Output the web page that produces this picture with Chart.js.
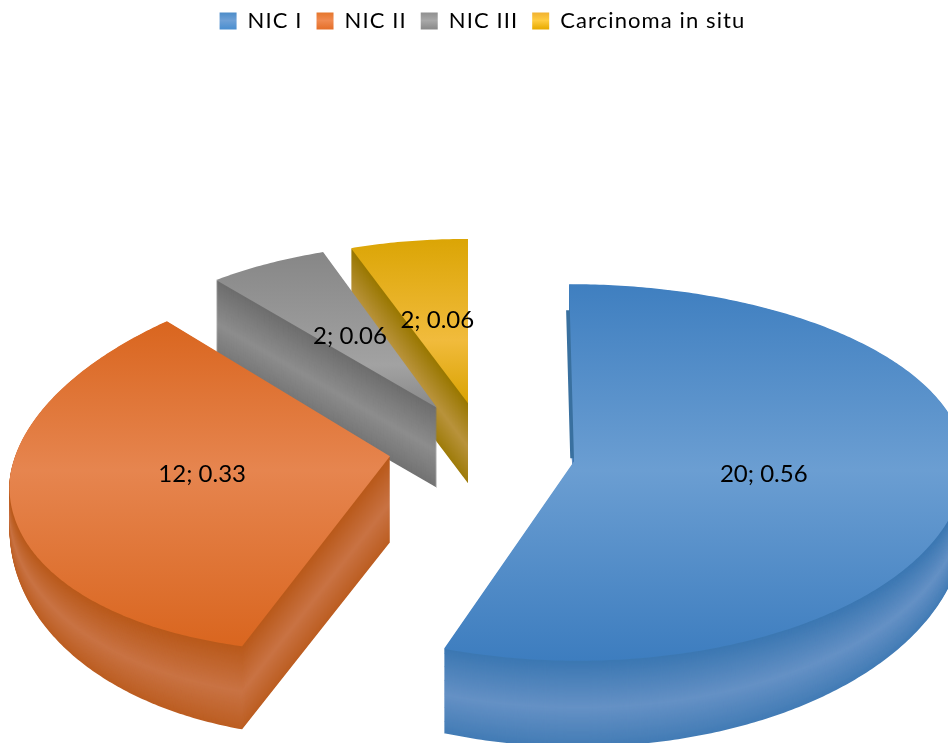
<!DOCTYPE html>
<html>
<head>
<meta charset="utf-8">
<style>
  html, body { margin: 0; padding: 0; background: #fff; }
  canvas { display: block; }
</style>
<script src="https://cdn.jsdelivr.net/npm/chart.js@4"></script>
</head>
<body>
<canvas id="myChart" width="948" height="743"></canvas>
<script>
const categories = ['NIC I', 'NIC II', 'NIC III', 'Carcinoma in situ'];
const counts = [20, 12, 2, 2];
const shares = [0.56, 0.33, 0.06, 0.06];

// legend swatches and flat fallback
const baseColors = ['#5b9bd5', '#ed7d31', '#a5a5a5', '#ffc000'];
// top face: colour at top / middle / bottom, and the screen y of those stops
const faceColors = [
    ['#3f7fc0', '#6b9ed2', '#3d7dbf'],
    ['#d9651e', '#e6854f', '#d9651e'],
    ['#868686', '#a2a2a2', '#878787'],
    ['#dba505', '#f1bb3c', '#d9a200']
];
const faceStops = [[284, 470, 660], [320, 470, 650], [250, 365, 410], [239, 340, 405]];
const swatchColors = [
    ['#4a8bc8', '#6ea0d6', '#4b8fd0'],
    ['#e5752a', '#f08a50', '#e5702a'],
    ['#8e8e8e', '#a8a8a8', '#8a8a8a'],
    ['#f0b030', '#ffcc40', '#e8ab00']
];
// side wall: dark edge and light streak
const wallColors = [
    ['#3b77b2', '#6591c5'],
    ['#b9591a', '#c97344'],
    ['#6d6d6d', '#8d8d8d'],
    ['#997700', '#b9933c']
];
const depths = [86, 86, 80, 80];
// wall gets shorter towards the sides of the pie (perspective)
const wallFalloff = [0.7, 0.45, 1, 1];
const labelShiftX = [-3, 1, -2, -1];
const labelShiftY = [-4, -9, 0, -2];

// how each slice sits in the tilted view, as fractions of the radius
const views = [
    { a: 1.028, bTop: 0.013, bBot: 0.01, c: 0, dTop: 0.466, dBot: 0.525, dx: -2, dy: 3 },
    { a: 1.0, bTop: -0.073, bBot: -0.05, c: -0.055, dTop: 0.51, dBot: 0.512, dx: 1, dy: -2 },
    { a: 0.926, bTop: -0.018, bBot: -0.018, c: 0.006, dTop: 0.434, dBot: 0.434, dx: 2, dy: -1 },
    { a: 0.9, bTop: 0, bBot: 0, c: 0.006, dTop: 0.432, dBot: 0.432, dx: 2, dy: 0 }
];
const centerY = 450;
const explode = 95;
const tilt = 0.5;

function project(arc, i, u, v) {
    const view = views[i];
    const r = arc.outerRadius;
    const mid = (arc.startAngle + arc.endAngle) / 2;
    const apexX = arc.x + explode * Math.cos(mid) + view.dx;
    const apexY = centerY + explode * tilt * Math.sin(mid) + view.dy;
    const b = v < 0 ? view.bTop : view.bBot;
    const d = v < 0 ? view.dTop : view.dBot;
    return {
        x: apexX + r * (view.a * u + b * v),
        y: apexY + r * (view.c * u + d * v)
    };
}

function tracePath(ctx, arc, i, shiftX, shiftY, drop) {
    const apex = project(arc, i, 0, 0);
    const m = wallFalloff[i];
    ctx.beginPath();
    ctx.moveTo(apex.x + shiftX, apex.y + shiftY + drop);
    const steps = Math.ceil((arc.endAngle - arc.startAngle) * 90);
    for (let s = 0; s <= steps; s++) {
        const angle = arc.startAngle + (arc.endAngle - arc.startAngle) * s / steps;
        const v = Math.sin(angle);
        const p = project(arc, i, Math.cos(angle), v);
        ctx.lineTo(p.x + shiftX, p.y + shiftY + drop * (m + (1 - m) * Math.max(v, 0)));
    }
    ctx.closePath();
}

function mix(c1, c2, t) {
    const n1 = parseInt(c1.slice(1), 16);
    const n2 = parseInt(c2.slice(1), 16);
    const ch = sh => Math.round(((n1 >> sh) & 255) * (1 - t) + ((n2 >> sh) & 255) * t);
    return 'rgb(' + ch(16) + ',' + ch(8) + ',' + ch(0) + ')';
}

const pie3d = {
    id: 'pie3d',
    beforeLayout(chart) {
        chart.ctx.letterSpacing = '1.1px';
    },
    beforeDraw(chart) {
        chart.ctx.letterSpacing = '1.1px';
    },
    beforeDatasetsDraw(chart) {
        const ctx = chart.ctx;
        const arcs = chart.getDatasetMeta(0).data;
        ctx.save();
        ctx.letterSpacing = '0px';

        // back slices first
        for (let i = arcs.length - 1; i >= 0; i--) {
            const arc = arcs[i];
            const depth = depths[i];
            for (let dy = depth; dy >= 1; dy--) {
                const t = dy / depth;
                const streak = 1 - Math.abs(t - 0.55) / 0.55;
                ctx.fillStyle = mix(wallColors[i][0], wallColors[i][1], Math.max(streak, 0));
                tracePath(ctx, arc, i, 0, 0, dy);
                ctx.fill();
            }
            if (i === 0) {
                // thin sliver of the hidden wall next to the first cut
                ctx.save();
                ctx.beginPath();
                ctx.rect(0, 0, chart.width, project(arc, i, 0, 0).y - 3);
                ctx.clip();
                ctx.fillStyle = '#39709f';
                tracePath(ctx, arc, i, -3, 26, 0);
                ctx.fill();
                ctx.restore();
            }
            const stops = faceStops[i];
            const g = ctx.createLinearGradient(0, stops[0], 0, stops[2]);
            g.addColorStop(0, faceColors[i][0]);
            g.addColorStop((stops[1] - stops[0]) / (stops[2] - stops[0]), faceColors[i][1]);
            g.addColorStop(1, faceColors[i][2]);
            ctx.fillStyle = g;
            tracePath(ctx, arc, i, 0, 0, 0);
            ctx.fill();
        }

        ctx.fillStyle = '#000';
        ctx.font = '24px Lato';
        ctx.textAlign = 'center';
        ctx.textBaseline = 'middle';
        arcs.forEach((arc, i) => {
            const mid = (arc.startAngle + arc.endAngle) / 2;
            const p = project(arc, i, Math.cos(mid) / 2, Math.sin(mid) / 2);
            ctx.fillText(counts[i] + '; ' + shares[i].toFixed(2), p.x + labelShiftX[i], p.y + labelShiftY[i]);
        });
        ctx.restore();
        return false;
    }
};

const ctx = document.getElementById('myChart').getContext('2d');
const myChart = new Chart(ctx, {
    type: 'pie',
    data: {
        labels: categories,
        datasets: [{
            data: counts,
            backgroundColor: baseColors,
            borderWidth: 0,
            radius: 380
        }]
    },
    options: {
        responsive: false,
        animation: false,
        events: [],
        layout: { padding: { left: 17, top: -4 } },
        plugins: {
            tooltip: { enabled: false },
            legend: {
                position: 'top',
                labels: {
                    boxWidth: 17,
                    boxHeight: 17,
                    padding: 14,
                    color: '#000',
                    font: { family: 'Lato', size: 22 },
                    generateLabels(chart) {
                        const items = Chart.overrides.pie.plugins.legend.labels.generateLabels(chart);
                        items.forEach((item, i) => {
                            const g = chart.ctx.createLinearGradient(0, 12, 0, 29);
                            g.addColorStop(0, swatchColors[i][0]);
                            g.addColorStop(0.5, swatchColors[i][1]);
                            g.addColorStop(1, swatchColors[i][2]);
                            item.fillStyle = g;
                        });
                        return items;
                    }
                }
            }
        }
    },
    plugins: [pie3d]
});
</script>
</body>
</html>
